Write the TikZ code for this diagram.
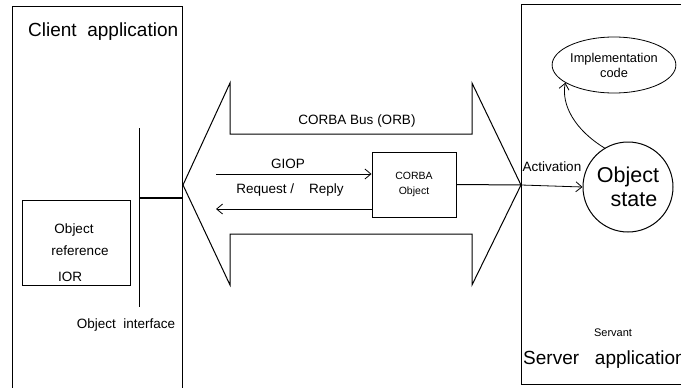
\documentclass[tikz,border=0pt]{standalone}
\usepackage{fontspec}
\setmainfont{Liberation Sans}
\usetikzlibrary{positioning,arrows.meta,shapes.geometric}

\begin{document}
\begin{tikzpicture}[x=1pt,y=-1pt,
	app/.style={draw, line width=1pt, inner sep=0pt},
	lbl/.style={font=\fontsize{13.5}{16}\selectfont, inner sep=0pt},
	title/.style={font=\fontsize{19}{22}\selectfont, inner sep=0pt},
	barb/.style={-{Straight Barb[length=6pt,width=10pt]}, line width=0.8pt}
	]
	\useasboundingbox (0,0) rectangle (681,388);
	
	% client and server side
	\node[app, minimum width=170pt, minimum height=384pt] (client) at (97,198) {};
	\node[app, minimum width=179pt, minimum height=380pt, anchor=north west] (server) at (521,4) {};
	\node[title, anchor=west] (clientlbl) at (28,32) {Client\ \ application};
	\node[title, anchor=west] (serverlbl) at (523,360) {Server\ \ \ application};
	\node[lbl, font=\fontsize{11}{13}\selectfont] (servant) at (613,333) {Servant};
	
	% object reference and interface
	\node[app, minimum width=108pt, minimum height=85pt] (objref) at (76,242.5) {};
	\node[lbl] (refa) at (74,230) {Object};
	\node[lbl] (refb) at (80,251) {reference};
	\node[lbl] (refc) at (70,277) {IOR};
	\coordinate (ifTop) at (139,128);
	\coordinate (ifBot) at (139,307);
	\draw[line width=0.8pt] (ifTop) -- (ifBot);
	\draw[line width=2pt] (ifTop |- client.east) -- (client.east);
	\node[lbl] (iflbl) at (126,325) {Object\ \ interface};
	
	% the bus
	\coordinate (busL) at (183,185);
	\coordinate (busR) at (521,185);
	\draw[line width=1pt] (busL) -- (230,83) -- (230,134) -- (472,134) -- (472,83) -- (busR)
		-- (472,285) -- (472,234) -- (230,234) -- (230,285) -- cycle;
	\node[lbl] (buslbl) at (357,121) {CORBA Bus (ORB)};
	
	% CORBA object and the calls
	\node[app, minimum width=84pt, minimum height=65pt, align=center,
		font=\fontsize{10.5}{15}\selectfont] (corba) at (414,184.5) {CORBA\\Object};
	\coordinate (giopS) at (216,174);
	\coordinate (replyE) at (216,209);
	\draw[barb] (giopS) -- (giopS -| corba.west);
	\draw[barb] (replyE -| corba.west) -- (replyE);
	\node[lbl] (giop) at (288,164) {GIOP};
	\node[lbl] (reqrep) at (290,190) {Request /\ \ \ \ Reply};
	\draw[line width=1pt] (corba.east) -- (busR);
	
	% servant
	\node[draw, line width=1pt, circle, minimum size=90pt, align=center, inner sep=0pt,
		font=\fontsize{21.5}{24}\selectfont] (state) at (628,187) {Object\\\ \ state};
	\node[draw, line width=0.8pt, ellipse, minimum width=106pt, minimum height=56pt, inner sep=0pt,
		align=center, font=\fontsize{12.8}{15}\selectfont] (impl) at (614,65) {Implementation\\code};
	\draw[barb] (busR) -- (state.west);
	\node[lbl] (act) at (552,167) {Activation};
	\draw[barb] (state.121) .. controls (575,130) and (561,105) .. (impl.200);
\end{tikzpicture}
\end{document}
